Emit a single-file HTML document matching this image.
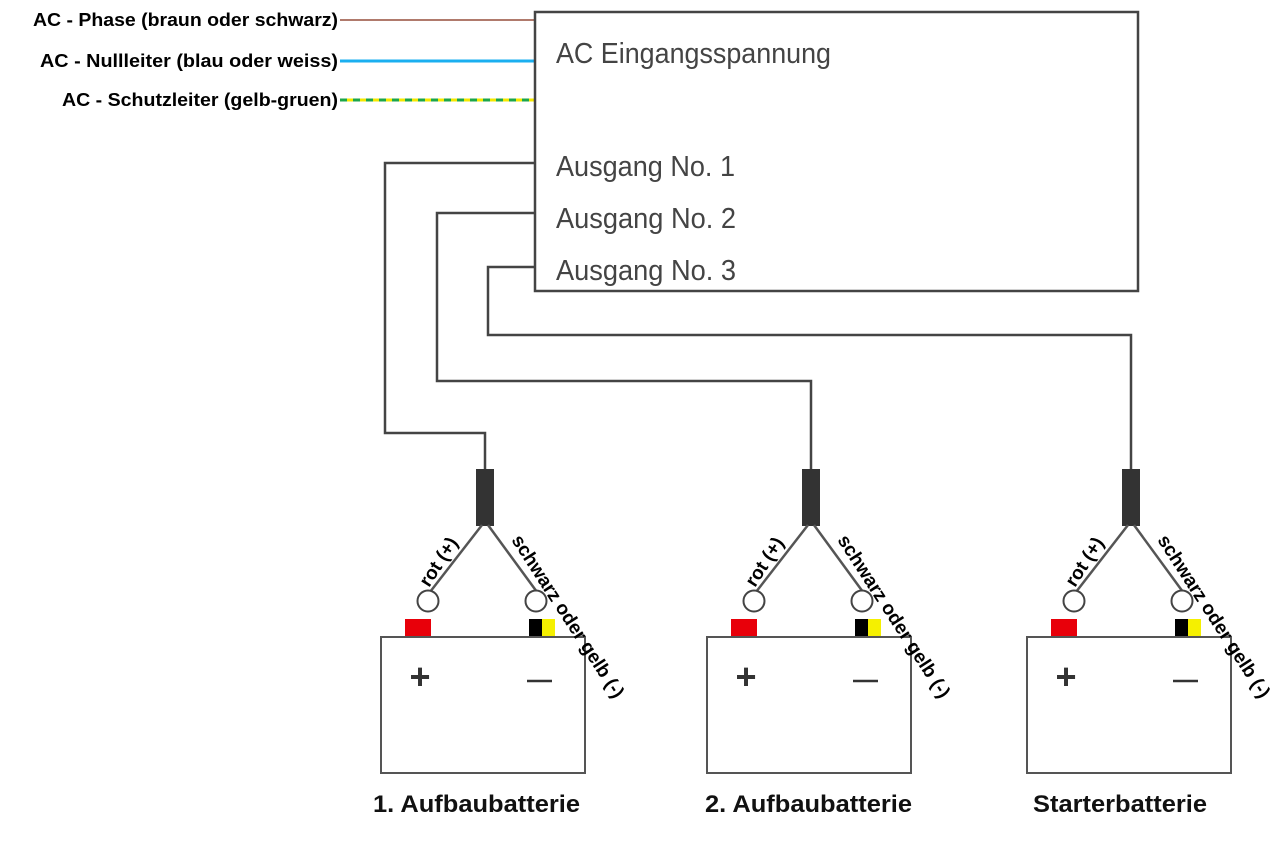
<!DOCTYPE html>
<html><head><meta charset="utf-8"><style>html,body{margin:0;padding:0;background:#fff}svg{display:block}</style></head>
<body>
<svg width="1280" height="866" viewBox="0 0 1280 866" xmlns="http://www.w3.org/2000/svg" font-family="Liberation Sans, sans-serif">
<rect x="0" y="0" width="1280" height="866" fill="#fff"/>
<line x1="340" y1="20" x2="535" y2="20" stroke="#b07a6c" stroke-width="2"/>
<line x1="340" y1="61" x2="535" y2="61" stroke="#1aaff0" stroke-width="3"/>
<line x1="340" y1="100" x2="535" y2="100" stroke="#f5e800" stroke-width="3"/>
<line x1="340" y1="100" x2="535" y2="100" stroke="#1ca64a" stroke-width="3" stroke-dasharray="7,6"/>
<g font-weight="bold" font-size="18.5" fill="#000">
<text x="33" y="26" textLength="305" lengthAdjust="spacingAndGlyphs">AC - Phase (braun oder schwarz)</text>
<text x="40" y="67" textLength="298" lengthAdjust="spacingAndGlyphs">AC - Nullleiter (blau oder weiss)</text>
<text x="62" y="106" textLength="276" lengthAdjust="spacingAndGlyphs">AC - Schutzleiter (gelb-gruen)</text>
</g>
<rect x="535" y="12" width="603" height="279" fill="none" stroke="#444" stroke-width="2.5"/>
<g fill="#444" font-size="29">
<text x="556" y="63" textLength="275" lengthAdjust="spacingAndGlyphs">AC Eingangsspannung</text>
<text x="556" y="176" textLength="179" lengthAdjust="spacingAndGlyphs">Ausgang No. 1</text>
<text x="556" y="228" textLength="180" lengthAdjust="spacingAndGlyphs">Ausgang No. 2</text>
<text x="556" y="280" textLength="180" lengthAdjust="spacingAndGlyphs">Ausgang No. 3</text>
</g>
<g fill="none" stroke="#444" stroke-width="2.5">
<polyline points="535,163 385,163 385,433 485,433 485,470"/>
<polyline points="535,213 437,213 437,381 811,381 811,470"/>
<polyline points="535,267 488,267 488,335 1131,335 1131,470"/>
</g>
<defs>
<g id="bat">
<rect x="-9" y="-1" width="18" height="57" fill="#333"/>
<line x1="-3" y1="55" x2="-55" y2="122" stroke="#555" stroke-width="2.5"/>
<line x1="3" y1="55" x2="52" y2="122" stroke="#555" stroke-width="2.5"/>
<circle cx="-57" cy="131" r="10.5" fill="#fff" stroke="#444" stroke-width="2"/>
<circle cx="51" cy="131" r="10.5" fill="#fff" stroke="#444" stroke-width="2"/>
<rect x="-80" y="149" width="26" height="18" fill="#e8000a"/>
<rect x="44" y="149" width="13" height="18" fill="#000"/>
<rect x="57" y="149" width="13" height="18" fill="#f5f000"/>
<rect x="-104" y="167" width="204" height="136" fill="#fff" stroke="#555" stroke-width="2"/>
<text x="-65" y="219" font-size="36" font-weight="bold" fill="#333" text-anchor="middle">+</text>
<line x1="42" y1="211" x2="67" y2="211" stroke="#333" stroke-width="2.5"/>
<text font-weight="bold" font-size="19" fill="#000" transform="translate(-56,118) rotate(-57)">rot (+)</text>
<text font-weight="bold" font-size="19" fill="#000" transform="translate(26,70) rotate(57)">schwarz oder gelb (-)</text>
</g>
</defs>
<use href="#bat" x="485" y="470"/>
<use href="#bat" x="811" y="470"/>
<use href="#bat" x="1131" y="470"/>
<g font-weight="bold" font-size="24" fill="#111">
<text x="373" y="812" textLength="207" lengthAdjust="spacingAndGlyphs">1. Aufbaubatterie</text>
<text x="705" y="812" textLength="207" lengthAdjust="spacingAndGlyphs">2. Aufbaubatterie</text>
<text x="1033" y="812" textLength="174" lengthAdjust="spacingAndGlyphs">Starterbatterie</text>
</g>
</svg>
</body></html>
